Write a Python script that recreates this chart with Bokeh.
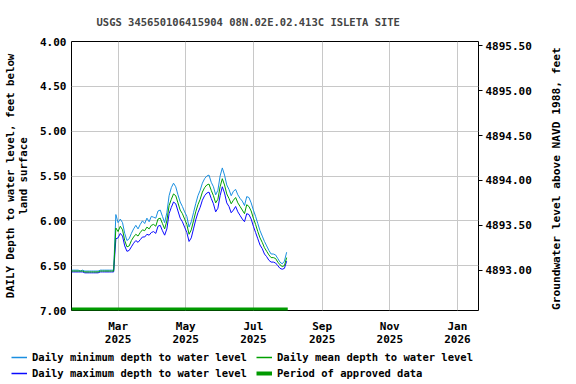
import math
import pandas as pd
from bokeh.plotting import figure
from bokeh.layouts import row
from bokeh.models import (Range1d, LinearAxis, FixedTicker, Legend, LegendItem,
                          NumeralTickFormatter, Label)
from bokeh.embed import file_html
from bokeh.resources import INLINE

title_text = "USGS 345650106415904 08N.02E.02.413C ISLETA SITE"
left_label = "DAILY Depth to water level, feet below\nland surface"
right_label = "Groundwater level above NAVD 1988, feet"

# observations every 2 days starting 2025-01-18 (depth below land surface, ft)
start_date = "2025-01-18"
step_days = 2
daily_mean = [
    6.56, 6.56, 6.56, 6.56, 6.56, 6.56, 6.57, 6.57, 6.57, 6.57,
    6.57, 6.57, 6.57, 6.56, 6.56, 6.56, 6.56, 6.56, 6.56, 6.56,
    6.08, 6.12, 6.06, 6.10, 6.22, 6.29, 6.28, 6.22, 6.18, 6.15,
    6.17, 6.13, 6.10, 6.11, 6.07, 6.09, 6.05, 6.04, 6.06, 5.98,
    5.97, 6.03, 6.09, 6.00, 5.83, 5.76, 5.70, 5.72, 5.80, 5.88,
    5.92, 5.98, 6.04, 6.15, 6.10, 6.00, 5.90, 5.82, 5.76, 5.68,
    5.63, 5.60, 5.59, 5.66, 5.72, 5.80, 5.76, 5.62, 5.53, 5.60,
    5.70, 5.75, 5.81, 5.77, 5.74, 5.80, 5.84, 5.88, 5.92, 5.82,
    5.84, 5.89, 5.97, 6.04, 6.12, 6.19, 6.24, 6.30, 6.34, 6.38,
    6.41, 6.41, 6.42, 6.46, 6.49, 6.51, 6.50, 6.41,
]
daily_min = [
    6.55, 6.55, 6.55, 6.55, 6.56, 6.55, 6.56, 6.56, 6.56, 6.56,
    6.56, 6.56, 6.56, 6.55, 6.55, 6.55, 6.55, 6.55, 6.55, 6.55,
    5.93, 6.02, 5.98, 6.02, 6.14, 6.22, 6.20, 6.14, 6.09, 6.05,
    6.09, 6.04, 6.00, 6.03, 5.97, 6.01, 5.95, 5.96, 5.97, 5.89,
    5.88, 5.95, 6.02, 5.91, 5.72, 5.63, 5.58, 5.62, 5.71, 5.79,
    5.84, 5.90, 5.95, 6.07, 6.01, 5.91, 5.81, 5.72, 5.66, 5.58,
    5.53, 5.50, 5.49, 5.57, 5.62, 5.71, 5.66, 5.50, 5.41, 5.49,
    5.60, 5.65, 5.72, 5.67, 5.65, 5.71, 5.75, 5.78, 5.83, 5.73,
    5.74, 5.80, 5.88, 5.95, 6.03, 6.11, 6.17, 6.23, 6.28, 6.33,
    6.37, 6.37, 6.38, 6.42, 6.46, 6.48, 6.45, 6.35,
]
daily_max = [
    6.57, 6.57, 6.57, 6.57, 6.57, 6.57, 6.58, 6.58, 6.58, 6.58,
    6.58, 6.58, 6.58, 6.57, 6.57, 6.57, 6.57, 6.57, 6.57, 6.57,
    6.20, 6.19, 6.14, 6.17, 6.28, 6.34, 6.33, 6.29, 6.25, 6.22,
    6.24, 6.21, 6.18, 6.18, 6.15, 6.16, 6.13, 6.12, 6.14, 6.06,
    6.05, 6.11, 6.16, 6.09, 5.92, 5.85, 5.79, 5.81, 5.89, 5.97,
    6.01, 6.07, 6.13, 6.23, 6.19, 6.09, 5.99, 5.91, 5.85, 5.77,
    5.72, 5.69, 5.68, 5.75, 5.81, 5.90, 5.86, 5.72, 5.62, 5.69,
    5.80, 5.84, 5.91, 5.88, 5.84, 5.90, 5.94, 5.98, 6.01, 5.92,
    5.93, 5.98, 6.06, 6.13, 6.20, 6.27, 6.31, 6.37, 6.40, 6.44,
    6.46, 6.46, 6.47, 6.50, 6.53, 6.54, 6.53, 6.45,
]
approved_start = "2025-01-18"
approved_end = "2025-08-01"
land_surface_elev = 4899.55   # elevation = land_surface_elev - depth

depth_ticks = [4.0, 4.5, 5.0, 5.5, 6.0, 6.5, 7.0]
elev_ticks = [4893.0, 4893.5, 4894.0, 4894.5, 4895.0, 4895.5]
month_ticks = ["2025-03-01", "2025-05-01", "2025-07-01", "2025-09-01",
               "2025-11-01", "2026-01-01"]
month_labels = ["Mar\n2025", "May\n2025", "Jul\n2025", "Sep\n2025",
                "Nov\n2025", "Jan\n2026"]
legend_labels = ["Daily minimum depth to water level",
                 "Daily mean depth to water level",
                 "Daily maximum depth to water level",
                 "Period of approved data"]
x_start = "2025-01-18"
x_end = "2026-01-20"

FONT = "DejaVu Sans Mono"
C_MIN = "#1a8fe0"
C_MAX = "#0a0aff"
C_MEAN = "#00a000"
C_APPR = "#009a00"

dates = pd.Timestamp(start_date) + pd.to_timedelta(
    [i * step_days for i in range(len(daily_mean))], unit="D")
approved_x = [pd.Timestamp(approved_start), pd.Timestamp(approved_end)]
approved_y = [6.988, 6.988]   # drawn along the bottom edge of the plot


def ms(d):
    return int(pd.Timestamp(d).value // 10**6)


p = figure(width=542, height=348, x_axis_type="datetime",
           output_backend="svg", toolbar_location=None,
           x_range=Range1d(pd.Timestamp(x_start), pd.Timestamp(x_end)),
           y_range=Range1d(7.0, 4.0),
           min_border_left=71, min_border_right=64,
           min_border_top=41, min_border_bottom=37)

p.title.text = title_text
p.title.text_font = FONT
p.title.text_font_size = "10.5px"
p.title.text_font_style = "bold"
p.title.align = "left"
p.title.offset = 25
p.title.standoff = 27

p.outline_line_color = "black"
p.outline_line_width = 1
p.outline_line_alpha = 1
p.background_fill_color = "white"
p.border_fill_color = "white"

# x axis
xa = p.xaxis[0]
xa.ticker = FixedTicker(ticks=[ms(d) for d in month_ticks], minor_ticks=[])
xa.major_label_overrides = {ms(d): lab for d, lab in zip(month_ticks, month_labels)}
xa.major_tick_out = 0
xa.major_tick_in = 0
xa.minor_tick_out = 0
xa.minor_tick_in = 0
xa.axis_line_color = None
xa.major_label_standoff = 9
xa.major_label_text_font = FONT
xa.major_label_text_font_style = "bold"
xa.major_label_text_font_size = "11px"
xa.major_label_text_line_height = 1.0
xa.major_label_text_color = "black"

# left axis
ya = p.yaxis[0]
ya.ticker = FixedTicker(ticks=depth_ticks, minor_ticks=[])
ya.formatter = NumeralTickFormatter(format="0.00")
ya.major_tick_out = 0
ya.major_tick_in = 0
ya.minor_tick_out = 0
ya.minor_tick_in = 0
ya.axis_line_color = None
ya.major_label_standoff = 5
ya.major_label_text_font = FONT
ya.major_label_text_font_style = "bold"
ya.major_label_text_font_size = "11px"
ya.major_label_text_color = "black"
ya.axis_label = left_label
ya.axis_label_text_font = FONT
ya.axis_label_text_font_style = "bold"
ya.axis_label_text_font_size = "10.7px"
ya.axis_label_text_line_height = 0.97
ya.axis_label_text_color = "black"
ya.axis_label_standoff = 7

# right axis (elevation)
p.extra_y_ranges = {"elev": Range1d(land_surface_elev - 7.0, land_surface_elev - 4.0)}
ra = LinearAxis(y_range_name="elev",
                ticker=FixedTicker(ticks=elev_ticks, minor_ticks=[]),
                formatter=NumeralTickFormatter(format="0.00"))
ra.major_tick_out = 4
ra.major_tick_in = 0
ra.minor_tick_out = 0
ra.minor_tick_in = 0
ra.major_tick_line_color = "black"
ra.axis_line_color = None
ra.major_label_standoff = 3
ra.major_label_text_font = FONT
ra.major_label_text_font_style = "bold"
ra.major_label_text_font_size = "11px"
ra.major_label_text_color = "black"
p.add_layout(ra, "right")

for g in p.grid:
    g.grid_line_color = "#c8c8c8"
    g.grid_line_width = 1

p.line(dates, daily_min, line_color=C_MIN, line_width=1)
p.line(dates, daily_max, line_color=C_MAX, line_width=1)
p.line(dates, daily_mean, line_color=C_MEAN, line_width=1)
p.line(approved_x, approved_y, line_color=C_APPR, line_width=4)

# narrow strip to the right that carries the right-axis title (bottom-to-top)
rf = figure(width=28, height=348, output_backend="svg", toolbar_location=None,
            x_axis_location=None, y_axis_location=None,
            x_range=Range1d(0, 1), y_range=Range1d(0, 1),
            min_border=0, outline_line_color=None)
rf.grid.visible = False
rf.background_fill_color = "white"
rf.border_fill_color = "white"
rf.add_layout(Label(x=0.5, y=0.49, text=right_label, angle=math.pi / 2,
                    text_align="center", text_baseline="middle",
                    text_font=FONT, text_font_style="bold",
                    text_font_size="11.2px", text_color="black"))

# legend strip below the chart; its renderers reuse the series but lie
# outside this strip's (0..1) ranges, so only the legend samples show
lf = figure(width=576, height=36, output_backend="svg", toolbar_location=None,
            x_axis_location=None, y_axis_location=None,
            x_range=Range1d(0, 1), y_range=Range1d(0, 1),
            min_border=0, outline_line_color=None)
lf.grid.visible = False
lf.background_fill_color = "white"
lf.border_fill_color = "white"
e_min = lf.line(dates, daily_min, line_color=C_MIN, line_width=1.5)
e_mean = lf.line(dates, daily_mean, line_color=C_MEAN, line_width=1.5)
e_max = lf.line(dates, daily_max, line_color=C_MAX, line_width=1.5)
e_appr = lf.line(approved_x, approved_y, line_color=C_APPR, line_width=4)

legend = Legend(
    items=[LegendItem(label=lab, renderers=[r])
           for lab, r in zip(legend_labels, [e_min, e_mean, e_max, e_appr])],
    location=(11, 4), orientation="horizontal", ncols=2,
    label_text_font=FONT, label_text_font_style="bold",
    label_text_font_size="10.5px", label_text_color="black",
    glyph_width=16, glyph_height=14, label_height=14, label_standoff=5,
    label_width=222, spacing=2, padding=0, margin=0,
    border_line_alpha=0, background_fill_alpha=0,
)
lf.add_layout(legend)

top = row(p, rf, spacing=0)
open("out.html", "w").write(file_html([top, lf], INLINE))
